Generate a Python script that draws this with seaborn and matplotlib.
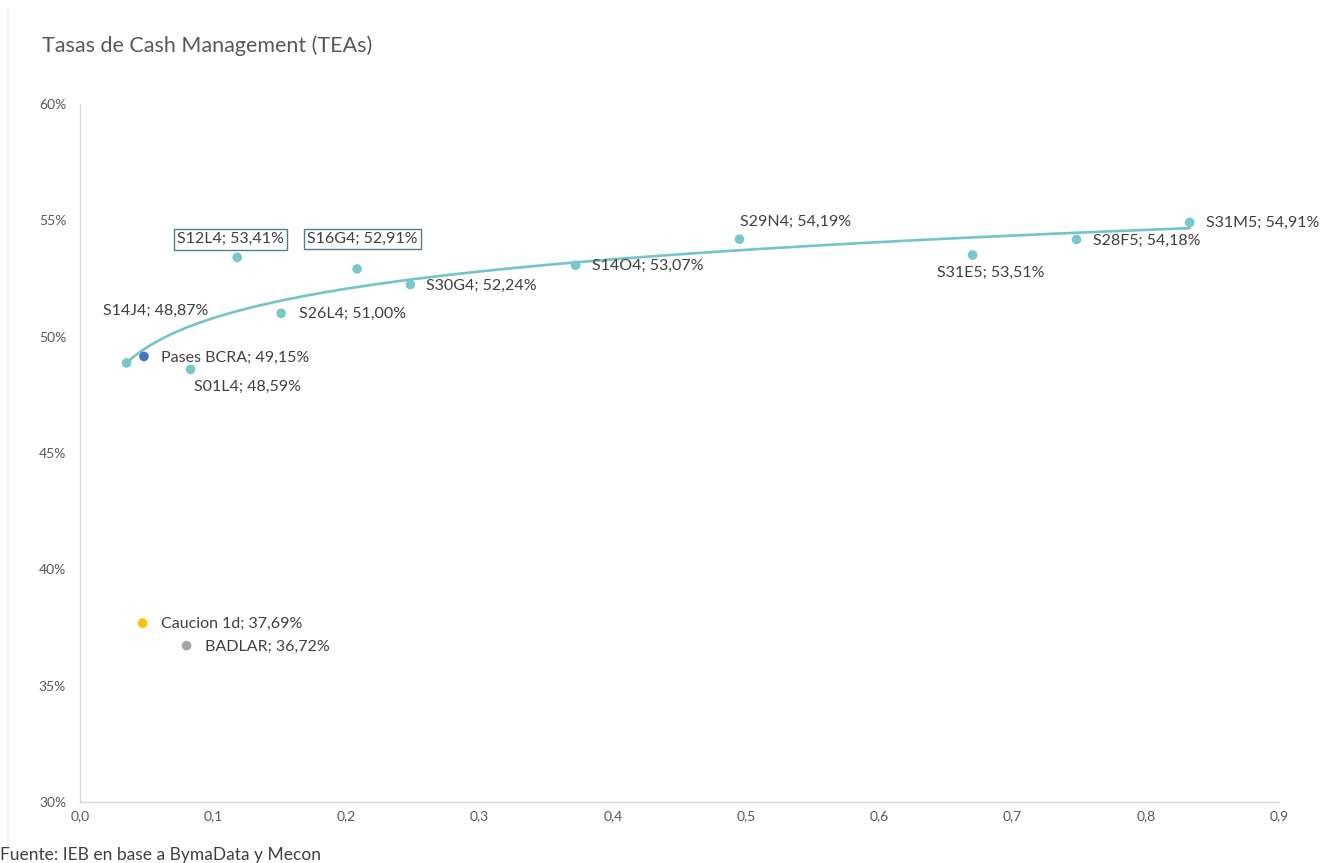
import numpy as np
import pandas as pd
import matplotlib
matplotlib.use("Agg")
import matplotlib.pyplot as plt
from matplotlib.ticker import FuncFormatter
import seaborn as sns

# Letras (LECAPs): plazo en años y TEA en %
lecap_names = ["S14J4", "S01L4", "S12L4", "S26L4", "S16G4", "S30G4",
               "S14O4", "S29N4", "S31E5", "S28F5", "S31M5"]
lecap_years = [0.035, 0.083, 0.118, 0.151, 0.208, 0.248,
               0.372, 0.495, 0.670, 0.748, 0.833]
lecap_rates = [48.87, 48.59, 53.41, 51.00, 52.91, 52.24,
               53.07, 54.19, 53.51, 54.18, 54.91]

# Tasas de referencia
ref_names = ["Pases BCRA", "Caucion 1d", "BADLAR"]
ref_years = [0.048, 0.047, 0.080]
ref_rates = [49.15, 37.69, 36.72]

x_ticks = [0.0, 0.1, 0.2, 0.3, 0.4, 0.5, 0.6, 0.7, 0.8, 0.9]
y_ticks = [30, 35, 40, 45, 50, 55, 60]

TEAL = "#77C7CB"
LINE_TEAL = "#74C4C8"
REF_COLORS = {"Pases BCRA": "#4472C4", "Caucion 1d": "#FFC000", "BADLAR": "#A5A5A5"}
TEXT = "#404040"
TICK = "#595959"

# label placement: (dx, dy) in pixels from the point, horizontal alignment, boxed
label_style = {
    "S14J4": (-24, 52, "left", False),
    "S01L4": (3, -17, "left", False),
    "S12L4": (-7, 18, "center", True),
    "S26L4": (18, 0, "left", False),
    "S16G4": (5, 30, "center", True),
    "S30G4": (16, -1, "left", False),
    "S14O4": (16, -1, "left", False),
    "S29N4": (1, 17, "left", False),
    "S31E5": (-36, -18, "left", False),
    "S28F5": (16, -1, "left", False),
    "S31M5": (16, 0, "left", False),
    "Pases BCRA": (17, -1, "left", False),
    "Caucion 1d": (18, -1, "left", False),
    "BADLAR": (18, -1, "left", False),
}

sns.set_theme(style="white")
plt.rcParams["font.family"] = ["Lato", "DejaVu Sans"]

fig = plt.figure(figsize=(13.27, 8.63), dpi=100)
ax = fig.add_axes([80 / 1327, 61 / 863, 1199 / 1327, 698 / 863])

lecaps = pd.DataFrame({"name": lecap_names, "plazo": lecap_years, "tea": lecap_rates})
refs = pd.DataFrame({"name": ref_names, "plazo": ref_years, "tea": ref_rates})

# logarithmic trend over the LECAP curve
b, a = np.polyfit(np.log(lecaps["plazo"]), lecaps["tea"], 1)
xs = np.linspace(lecaps["plazo"].min(), lecaps["plazo"].max(), 200)
trend = pd.DataFrame({"plazo": xs, "tea": a + b * np.log(xs)})
sns.lineplot(data=trend, x="plazo", y="tea", ax=ax, color=LINE_TEAL,
             linewidth=1.9, zorder=2)

sns.scatterplot(data=lecaps, x="plazo", y="tea", ax=ax, color=TEAL,
                s=48, edgecolor="none", zorder=3)
sns.scatterplot(data=refs, x="plazo", y="tea", ax=ax, hue="name",
                palette=REF_COLORS, s=48, edgecolor="none", legend=False, zorder=4)

def fmt(v):
    return f"{v:.2f}".replace(".", ",") + "%"

for df in (lecaps, refs):
    for name, px, py in zip(df["name"], df["plazo"], df["tea"]):
        dx, dy, ha, boxed = label_style[name]
        kw = {}
        if boxed:
            kw["bbox"] = dict(boxstyle="square,pad=0.2", facecolor="white",
                              edgecolor="#4F7F8E", linewidth=1.0)
        ax.annotate(f"{name}; {fmt(py)}", (px, py), xytext=(dx, dy),
                    textcoords="offset pixels", ha=ha, va="center",
                    fontsize=11.5, color=TEXT, zorder=5, **kw)

ax.set_xlim(0, 0.9)
ax.set_ylim(30, 60)
ax.set_xticks(x_ticks)
ax.set_yticks(y_ticks)
ax.xaxis.set_major_formatter(FuncFormatter(lambda v, p: f"{v:.1f}".replace(".", ",")))
ax.yaxis.set_major_formatter(FuncFormatter(lambda v, p: f"{v:.0f}%"))
ax.tick_params(axis="both", length=0, labelsize=10, colors=TICK)
ax.tick_params(axis="x", pad=6)
ax.tick_params(axis="y", pad=10)
ax.set_xlabel("")
ax.set_ylabel("")
for side in ("top", "right"):
    ax.spines[side].set_visible(False)
for side in ("left", "bottom"):
    ax.spines[side].set_color("#D9D9D9")
    ax.spines[side].set_linewidth(1.0)

fig.text(42 / 1327, 1 - 46 / 863, "Tasas de Cash Management (TEAs)",
         fontsize=15.5, color="#595959", va="center", ha="left")
fig.text(0 / 1327, 1 - 855 / 863, "Fuente: IEB en base a BymaData y Mecon",
         fontsize=12.5, color=TEXT, va="center", ha="left")

# thin frame line along the left edge
fig.add_artist(plt.Line2D([8 / 1327, 8 / 1327], [0, 1 - 8 / 863],
                          transform=fig.transFigure, color="#F0F0F0", linewidth=1.2))

fig.savefig("out.png", dpi=100, facecolor="white")
